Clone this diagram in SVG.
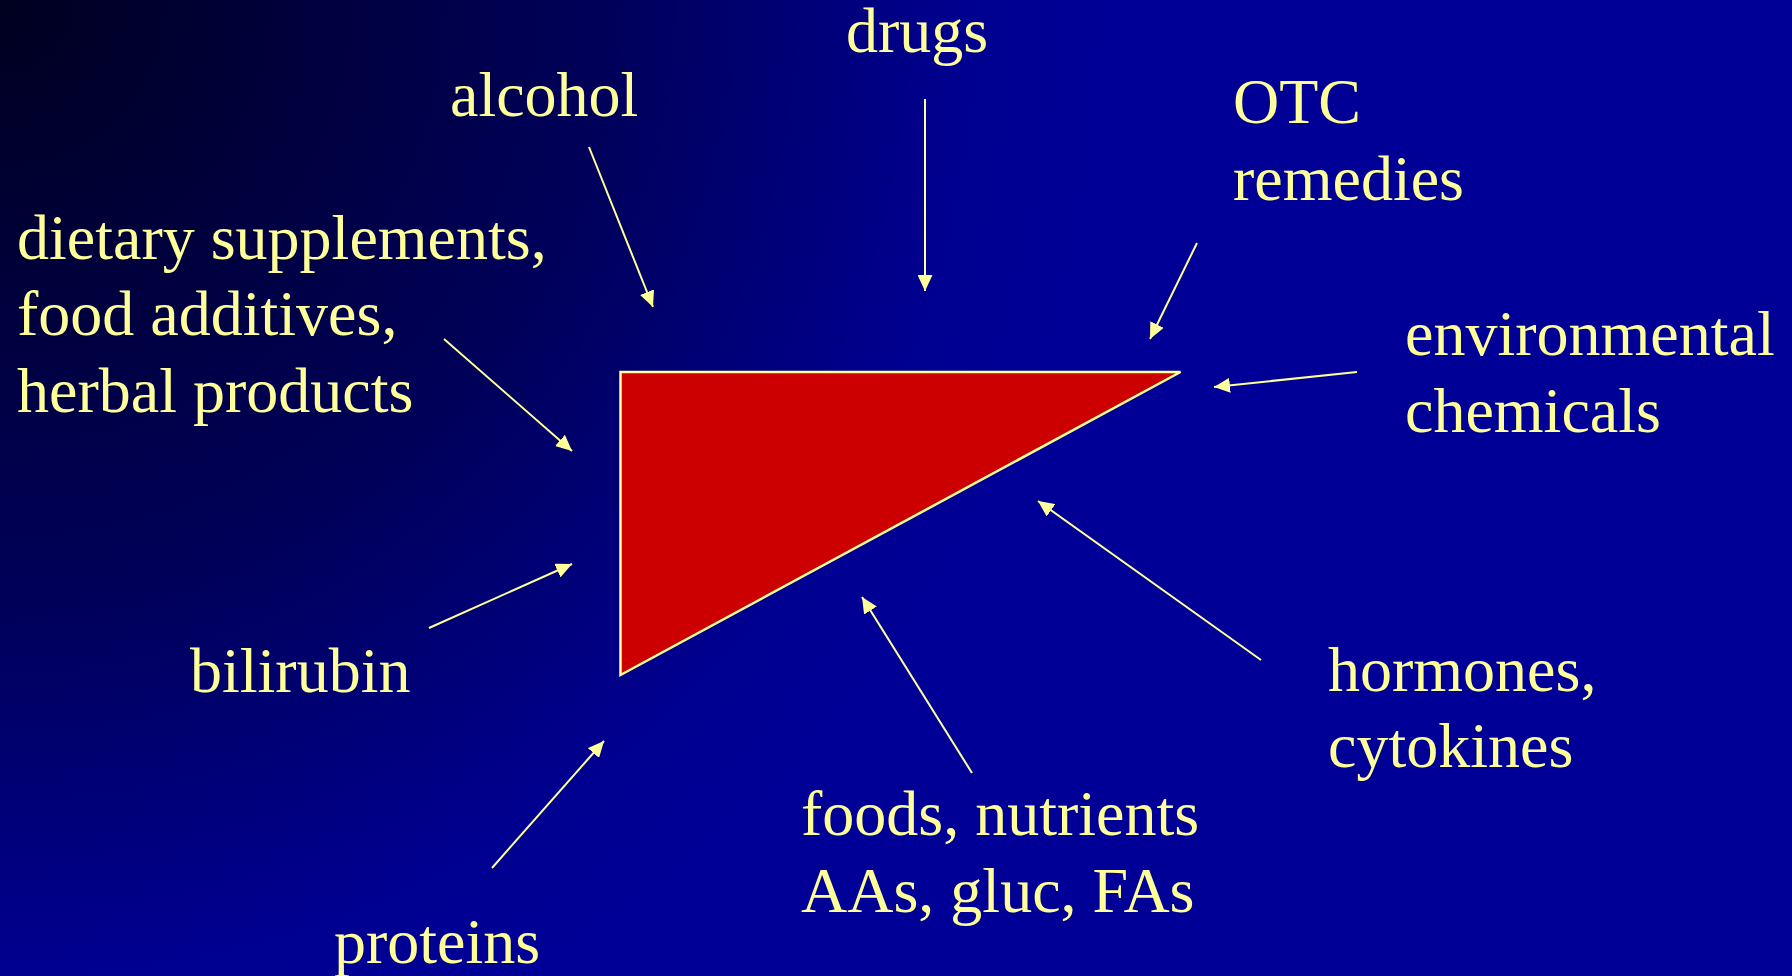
<svg xmlns="http://www.w3.org/2000/svg" width="1792" height="976" viewBox="0 0 1792 976">
<defs>
<radialGradient id="bg" cx="0" cy="0" r="1100" gradientUnits="userSpaceOnUse">
<stop offset="0" stop-color="#000020"/>
<stop offset="0.55" stop-color="#00005a"/>
<stop offset="0.88" stop-color="#000090"/>
<stop offset="1" stop-color="#000096"/>
</radialGradient>
<marker id="ah" markerUnits="userSpaceOnUse" markerWidth="17" markerHeight="15" refX="16" refY="7.5" orient="auto">
<path d="M0,0 L16,7.5 L0,15 z" fill="#FFFF99"/>
</marker>
<style>
.lbl{font-family:"Liberation Serif","Times New Roman",serif;font-size:64px;fill:#FFFF99}
.arr{stroke:#FFFF99;stroke-width:2;fill:none;marker-end:url(#ah)}
</style>
</defs>
<rect width="1792" height="976" fill="url(#bg)"/>
<g id="liver">
<polygon points="620.5,372 1180.5,372 620.5,675" fill="#CC0000" stroke="#FFFF99" stroke-width="2.5"/>
</g>
<g id="connectors">
<line class="arr" x1="925" y1="99" x2="925" y2="291"/>
<line class="arr" x1="589" y1="147" x2="653" y2="307"/>
<line class="arr" x1="444" y1="339" x2="572" y2="451"/>
<line class="arr" x1="1197" y1="243" x2="1150" y2="339"/>
<line class="arr" x1="1357" y1="372" x2="1214" y2="387"/>
<line class="arr" x1="429" y1="628" x2="572" y2="564"/>
<line class="arr" x1="492" y1="868" x2="604" y2="741"/>
<line class="arr" x1="972" y1="773" x2="862" y2="597"/>
<line class="arr" x1="1261" y1="660" x2="1038" y2="501"/>
</g>
<g id="n-drugs"><text class="lbl" x="846" y="52">drugs</text></g>
<g id="n-alcohol"><text class="lbl" x="450" y="116">alcohol</text></g>
<g id="n-dietary"><text class="lbl" x="17" y="259">dietary supplements,</text><text class="lbl" x="17" y="335">food additives,</text><text class="lbl" x="17" y="412">herbal products</text></g>
<g id="n-otc"><text class="lbl" x="1233" y="123">OTC</text><text class="lbl" x="1233" y="200">remedies</text></g>
<g id="n-env"><text class="lbl" x="1405" y="355">environmental</text><text class="lbl" x="1405" y="432">chemicals</text></g>
<g id="n-bilirubin"><text class="lbl" x="190" y="692">bilirubin</text></g>
<g id="n-proteins"><text class="lbl" x="334" y="963">proteins</text></g>
<g id="n-foods"><text class="lbl" x="801" y="835">foods, nutrients</text><text class="lbl" x="801" y="912">AAs, gluc, FAs</text></g>
<g id="n-hormones"><text class="lbl" x="1328" y="691">hormones,</text><text class="lbl" x="1328" y="767">cytokines</text></g>
</svg>
